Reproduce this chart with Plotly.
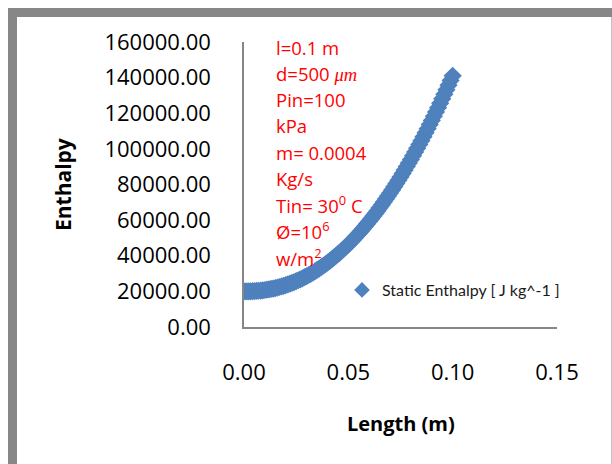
import plotly.graph_objects as go

# ---- data ----
length_m = [0.000, 0.001, 0.002, 0.003, 0.004, 0.005, 0.006, 0.007, 0.008, 0.009,
            0.010, 0.011, 0.012, 0.013, 0.014, 0.015, 0.016, 0.017, 0.018, 0.019,
            0.020, 0.021, 0.022, 0.023, 0.024, 0.025, 0.026, 0.027, 0.028, 0.029,
            0.030, 0.031, 0.032, 0.033, 0.034, 0.035, 0.036, 0.037, 0.038, 0.039,
            0.040, 0.041, 0.042, 0.043, 0.044, 0.045, 0.046, 0.047, 0.048, 0.049,
            0.050, 0.051, 0.052, 0.053, 0.054, 0.055, 0.056, 0.057, 0.058, 0.059,
            0.060, 0.061, 0.062, 0.063, 0.064, 0.065, 0.066, 0.067, 0.068, 0.069,
            0.070, 0.071, 0.072, 0.073, 0.074, 0.075, 0.076, 0.077, 0.078, 0.079,
            0.080, 0.081, 0.082, 0.083, 0.084, 0.085, 0.086, 0.087, 0.088, 0.089,
            0.090, 0.091, 0.092, 0.093, 0.094, 0.095, 0.096, 0.097, 0.098, 0.099,
            0.100]
static_enthalpy = [20000, 20000, 20020, 20050, 20100, 20170, 20250, 20350, 20470, 20610,
                   20760, 20940, 21140, 21360, 21600, 21860, 22150, 22450, 22780, 23130,
                   23510, 23910, 24330, 24770, 25240, 25730, 26250, 26790, 27350, 27950,
                   28560, 29200, 29870, 30560, 31280, 32020, 32780, 33580, 34400, 35240,
                   36120, 37020, 37950, 38900, 39880, 40890, 41920, 42980, 44070, 45190,
                   46330, 47510, 48710, 49930, 51190, 52480, 53790, 55130, 56500, 57910,
                   59330, 60780, 62280, 63780, 65330, 66900, 68510, 70130, 71800, 73480,
                   75210, 76950, 78740, 80550, 82390, 84260, 86160, 88090, 90050, 92040,
                   94060, 96110, 98190, 100310, 102450, 104630, 106830, 109060, 111340, 113630,
                   115970, 118320, 120730, 123140, 125600, 128090, 130610, 133160, 135740, 138360,
                   141000]
series_name = "Static Enthalpy [ J kg^-1 ]"
y_ticks = [0, 20000, 40000, 60000, 80000, 100000, 120000, 140000, 160000]
x_ticks = [0.00, 0.05, 0.10, 0.15]
note_lines = ["l=0.1 m",
              "d=500 <i><span style=\"font-family:'Liberation Serif'\">μm</span></i>",
              "Pin=100", "kPa", "m= 0.0004", "Kg/s",
              "Tin= 30<sup>0</sup> C", "Ø=10<sup>6</sup>", "w/m<sup>2</sup>"]

# ---- layout geometry (pixels) ----
W, H = 612, 464
L, R, T, B = 244, 557, 42, 327
pw, ph = R - L, B - T


def px(x):
    return (x - L) / pw


def py(y):
    return (B - y) / ph


FONT = "Open Sans, Liberation Sans, sans-serif"

fig = go.Figure()
fig.add_trace(go.Scatter(
    x=length_m, y=static_enthalpy, mode="markers", name=series_name,
    marker=dict(symbol="diamond", size=14, color="#4F81BD",
                line=dict(width=0)),
    showlegend=True,
))

annotations = []
for i, line in enumerate(note_lines):
    annotations.append(dict(
        x=px(274), y=py(47 + i * 26.25), xref="paper", yref="paper",
        xanchor="left", yanchor="middle", showarrow=False, text=line,
        font=dict(family=FONT, size=18.5, color="#FF0000")))
annotations.append(dict(
    x=px(401), y=py(423), xref="paper", yref="paper", showarrow=False,
    text="<b>Length (m)</b>", font=dict(family=FONT, size=20, color="#000000"),
    xanchor="center", yanchor="middle"))
annotations.append(dict(
    x=px(63), y=py(185), xref="paper", yref="paper", showarrow=False,
    text="<b>Enthalpy</b>", textangle=-90,
    font=dict(family=FONT, size=21, color="#000000"),
    xanchor="center", yanchor="middle"))

fig.update_layout(
    width=W, height=H,
    margin=dict(l=L, r=W - R, t=T, b=H - B, autoexpand=False),
    paper_bgcolor="white", plot_bgcolor="white",
    font=dict(family=FONT, color="#000000"),
    xaxis=dict(range=[0, 0.15], tickvals=x_ticks, tickformat=".2f",
               showgrid=False, zeroline=False, showline=True,
               linecolor="#868686", linewidth=1.5, ticks="",
               ticklabelstandoff=25,
               tickfont=dict(family=FONT, size=22, color="#000000")),
    yaxis=dict(range=[0, 160000], tickvals=y_ticks, tickformat=".2f",
               showgrid=False, zeroline=False, showline=True,
               linecolor="#868686", linewidth=1.5, ticks="",
               ticklabelstandoff=27,
               tickfont=dict(family=FONT, size=22, color="#000000")),
    legend=dict(x=px(342), y=py(290), xanchor="left", yanchor="middle",
                bgcolor="rgba(0,0,0,0)", itemsizing="constant",
                font=dict(family="Lato, Open Sans, sans-serif",
                          size=16, color="#1a1a1a")),
    annotations=annotations,
    shapes=[dict(type="rect", xref="paper", yref="paper",
                 x0=px(12.5), x1=px(616), y0=py(12.5), y1=py(480),
                 line=dict(color="#878787", width=9), layer="above")],
)

fig.write_html("out.html")
